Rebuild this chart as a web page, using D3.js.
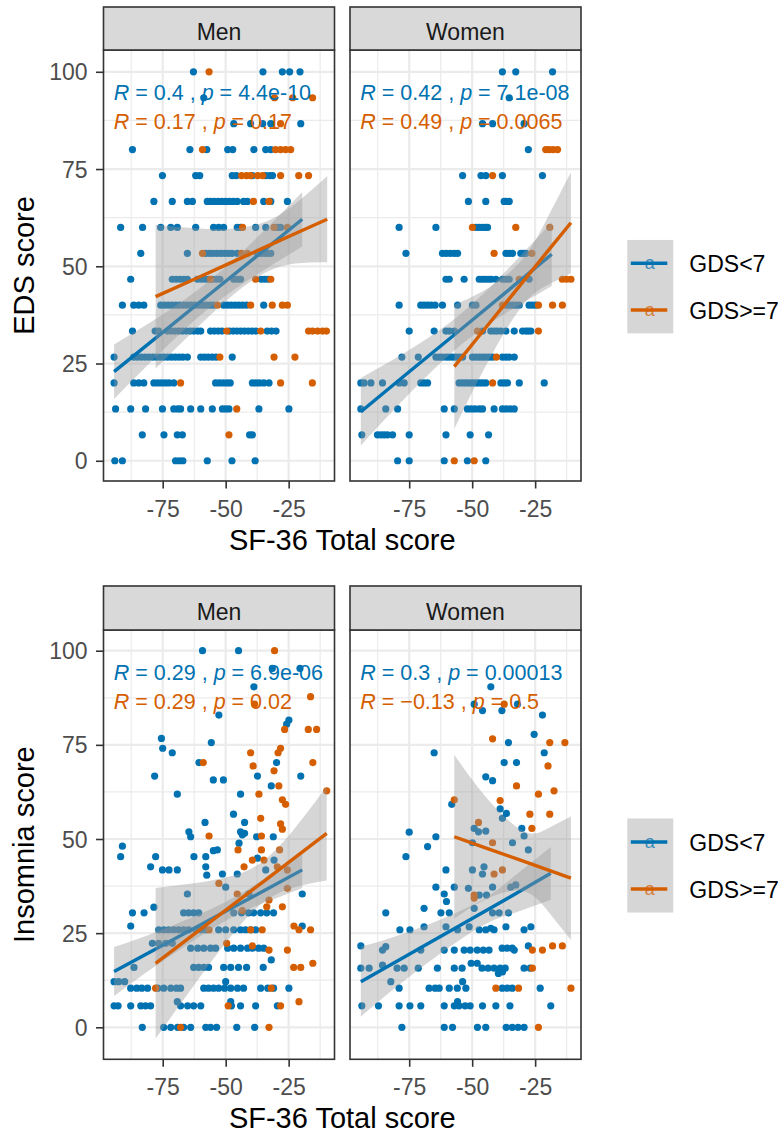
<!DOCTYPE html>
<html>
<head>
<meta charset="utf-8">
<script src="https://cdn.jsdelivr.net/npm/d3@7"></script>
<style>
html, body { margin: 0; padding: 0; background: #ffffff; }
svg { display: block; font-family: "Liberation Sans", Arial, sans-serif; }
</style>
</head>
<body>
<svg id="chart" width="784" height="1135"></svg>
<script>
// ---- categories, ticks -------------------------------------------------
const facets = ["Men", "Women"];
const groups = ["GDS<7", "GDS>=7"];
const groupColors = ["#0072B2", "#D55E00"];
const xTicks = [-75, -50, -25];
const xMinorTicks = [-87.5, -62.5, -37.5, -12.5];
const yTicks = [0, 25, 50, 75, 100];
const yMinorTicks = [12.5, 37.5, 62.5, 87.5];
const xTitle = "SF-36 Total score";

// ---- EDS score vs SF-36 total score: [sf36, eds] ------------------------
const edsMenLow = [
  [-62.8,100],[-35.2,100],[-27.5,100],[-24.6,100],[-20.5,100],
  [-58.7,93.33],
  [-46.8,86.67],[-40.1,86.67],[-35.3,86.67],[-32.1,86.67],[-20.2,86.67],
  [-87,80],[-64.2,80],[-57.5,80],[-49.2,80],[-47.2,80],[-38.8,80],[-34.1,80],[-32.1,80],
  [-75.1,73.33],[-61.9,73.33],[-60.3,73.33],[-47.4,73.33],[-45.8,73.33],[-39.4,73.33],[-34.1,73.33],[-32.5,73.33],[-31.4,73.33],
  [-78.5,66.67],[-71.2,66.67],[-65.2,66.67],[-63.2,66.67],[-57.3,66.67],[-56,66.67],[-54.5,66.67],[-53,66.67],[-51.5,66.67],[-50,66.67],[-48.5,66.67],[-47,66.67],[-45.4,66.67],[-42.9,66.67],[-41.4,66.67],[-34.9,66.67],[-32.1,66.67],[-25.5,66.67],
  [-91.7,60],[-83,60],[-75.8,60],[-71.8,60],[-69.2,60],[-61.9,60],[-54.8,60],[-52.8,60],[-50.8,60],[-45.4,60],[-44.1,60],[-38.1,60],[-34.1,60],[-29.5,60],[-28.2,60],
  [-83.7,53.33],[-65.2,53.33],[-57.9,53.33],[-56.4,53.33],[-55,53.33],[-53.5,53.33],[-52,53.33],[-50.5,53.33],[-49,53.33],[-47.5,53.33],[-45.4,53.33],[-37.4,53.33],[-36,53.33],[-34.6,53.33],[-33.2,53.33],[-32.1,53.33],
  [-87.7,46.67],[-71.2,46.67],[-69.7,46.67],[-68.2,46.67],[-66.7,46.67],[-65.2,46.67],[-61.2,46.67],[-59.7,46.67],[-58.2,46.67],[-56.7,46.67],[-55.2,46.67],[-53.7,46.67],[-52.3,46.67],[-46.8,46.67],[-45.4,46.67],[-44.1,46.67],[-35.9,46.67],[-34.5,46.67],[-33.1,46.67],
  [-91,40],[-86.5,40],[-84.5,40],[-82.5,40],[-75.8,40],[-74.3,40],[-72.8,40],[-71.3,40],[-69.8,40],[-68.3,40],[-66.7,40],[-65.2,40],[-63.7,40],[-62.2,40],[-60.7,40],[-59.2,40],[-57.7,40],[-56.2,40],[-54.8,40],[-50.8,40],[-49.3,40],[-47.8,40],[-46.3,40],[-44.8,40],[-43.3,40],[-41.7,40],[-34.9,40],
  [-87,33.33],[-78,33.33],[-76.6,33.33],[-73.1,33.33],[-71.6,33.33],[-70.1,33.33],[-68.6,33.33],[-67.1,33.33],[-65.6,33.33],[-64.1,33.33],[-62.6,33.33],[-61.1,33.33],[-59.9,33.33],[-56,33.33],[-54.5,33.33],[-53,33.33],[-51.5,33.33],[-48.5,33.33],[-47,33.33],[-45.5,33.33],[-44,33.33],[-42.5,33.33],[-41,33.33],[-39.5,33.33],[-38,33.33],[-33.5,33.33],[-31.8,33.33],[-30,33.33],
  [-94.3,26.67],[-86.5,26.67],[-85,26.67],[-83.5,26.67],[-82,26.67],[-80.5,26.67],[-79,26.67],[-77.5,26.67],[-76,26.67],[-74.5,26.67],[-73,26.67],[-71.5,26.67],[-70,26.67],[-68.5,26.67],[-67,26.67],[-65.2,26.67],[-59.9,26.67],[-58.4,26.67],[-56.9,26.67],[-55.3,26.67],[-53.8,26.67],[-47.4,26.67],
  [-94.3,20],[-86.5,20],[-84.5,20],[-82.5,20],[-78.5,20],[-77,20],[-75.5,20],[-74,20],[-72.5,20],[-70.6,20],[-54,20],[-52.5,20],[-51,20],[-49.5,20],[-48.2,20],[-39.4,20],[-38,20],[-36.6,20],[-34.9,20],[-32.8,20],
  [-93.7,13.33],[-87.7,13.33],[-81.8,13.33],[-75.1,13.33],[-70.6,13.33],[-69,13.33],[-67.9,13.33],[-63.9,13.33],[-59.9,13.33],[-55.3,13.33],[-51.3,13.33],[-50,13.33],[-48.7,13.33],[-36.8,13.33],[-24.9,13.33],
  [-83.1,6.67],[-74.5,6.67],[-69.2,6.67],[-67.2,6.67],[-40.5,6.67],[-39.4,6.67],
  [-94,0],[-91,0],[-69.9,0],[-68.4,0],[-67,0],[-57.3,0],[-47.5,0],[-38.3,0]
];
const edsMenHigh = [
  [-56.6,100],
  [-30.6,93.33],[-23.4,93.33],[-15.5,93.33],
  [-28.2,86.67],
  [-59.2,80],[-30.2,80],[-28.2,80],[-26.2,80],[-24.2,80],
  [-43.7,73.33],[-41.7,73.33],[-40.1,73.33],[-37.3,73.33],[-35.3,73.33],[-28.2,73.33],[-21,73.33],[-17.1,73.33],
  [-39,66.67],[-32.8,66.67],
  [-43.3,60],[-30.8,60],[-25.5,60],
  [-59.2,53.33],[-43.7,53.33],[-41.4,53.33],
  [-56,46.67],[-38.1,46.67],[-32.1,46.67],
  [-53.3,40],[-40.1,40],[-31.5,40],[-27.5,40],[-25.5,40],
  [-49.6,33.33],[-36.1,33.33],[-17.1,33.33],[-15.5,33.33],[-13.5,33.33],[-11.5,33.33],[-10,33.33],
  [-52.3,26.67],[-30.8,26.67],[-22.5,26.67],
  [-67.9,20],[-28.2,20],[-15.6,20],
  [-45.6,13.33],
  [-48.7,6.67]
];
const edsWomenLow = [
  [-38,100],[-32.7,100],[-18.1,100],
  [-35.3,93.33],
  [-45.9,86.67],[-41.9,86.67],[-29.4,86.67],
  [-27.7,80],
  [-53.8,73.33],[-46.5,73.33],[-44.6,73.33],[-38,73.33],[-22.1,73.33],
  [-51.5,66.67],[-44.6,66.67],[-37.3,66.67],[-36.5,66.67],[-35.3,66.67],
  [-79,60],[-64.4,60],[-48.5,60],[-47.2,60],[-46,60],[-44.8,60],[-43.9,60],
  [-76.3,53.33],[-61.8,53.33],[-60.3,53.33],[-58.7,53.33],[-57.1,53.33],[-55.8,53.33],[-36.6,53.33],[-35.3,53.33],[-34,53.33],[-30.7,53.33],[-29.8,53.33],[-28.7,53.33],
  [-60.4,46.67],[-59.1,46.67],[-53.2,46.67],[-47.2,46.67],[-46,46.67],[-44.8,46.67],[-43.6,46.67],[-42.4,46.67],[-40.6,46.67],[-38,46.67],[-36.6,46.67],[-35.3,46.67],[-27.4,46.67],
  [-79,40],[-70.4,40],[-69.1,40],[-67.7,40],[-66.3,40],[-64.7,40],[-61.8,40],[-55.8,40],[-49.9,40],[-48.5,40],[-36.6,40],[-35.3,40],[-34,40],[-32.7,40],[-31.3,40],[-27.4,40],[-26.1,40],[-24.7,40],
  [-75,33.33],[-65.1,33.33],[-60.4,33.33],[-59.1,33.33],[-57.1,33.33],[-45.9,33.33],[-42.6,33.33],[-41.3,33.33],[-40.1,33.33],[-38.6,33.33],[-36.6,33.33],[-33.3,33.33],[-30,33.33],[-28.7,33.33],[-27.8,33.33],[-26.7,33.33],
  [-77.9,26.67],[-71.4,26.67],[-64.4,26.67],[-63.1,26.67],[-61.8,26.67],[-60.3,26.67],[-59.1,26.67],[-57.8,26.67],[-56.5,26.67],[-55.2,26.67],[-53.8,26.67],[-49.9,26.67],[-48.5,26.67],[-47.2,26.67],[-45.9,26.67],[-44.6,26.67],[-43.3,26.67],[-41.9,26.67],[-38,26.67],[-36.6,26.67],[-35.3,26.67],[-33.3,26.67],
  [-94.2,20],[-92.9,20],[-90.2,20],[-85.6,20],[-79,20],[-77,20],[-70.4,20],[-69.1,20],[-67.7,20],[-55.2,20],[-53.8,20],[-52.5,20],[-51.2,20],[-49.9,20],[-48.5,20],[-47.2,20],[-45.9,20],[-44.6,20],[-38.6,20],[-37.3,20],[-36,20],[-31.3,20],[-21.4,20],
  [-94.2,13.33],[-84.3,13.33],[-79.6,13.33],[-61.1,13.33],[-57.1,13.33],[-51.9,13.33],[-50.4,13.33],[-48.9,13.33],[-47.2,13.33],[-45.9,13.33],[-41.3,13.33],[-38,13.33],[-36.5,13.33],[-34.9,13.33],[-33.3,13.33],
  [-93.8,6.67],[-87.6,6.67],[-86.2,6.67],[-84.9,6.67],[-83.6,6.67],[-81.6,6.67],[-75,6.67],[-60.4,6.67],[-50.8,6.67],[-43.5,6.67],
  [-79.6,0],[-75,0],[-61.1,0],[-51.9,0],[-44.6,0]
];
const edsWomenHigh = [
  [-20.8,80],[-19.5,80],[-17.9,80],[-16.1,80],
  [-41.9,73.33],
  [-49.9,60],[-32.7,60],[-19.2,60],
  [-41.3,53.33],[-26.3,53.33],
  [-31.3,46.67],[-14.2,46.67],[-12.5,46.67],[-10.8,46.67],
  [-38,40],[-23.7,40],[-18.1,40],[-14.2,40],
  [-47.9,33.33],[-23.7,33.33],
  [-40.4,26.67],
  [-41.9,20],
  [-57.1,0],[-49.2,0]
];

// ---- Insomnia score vs SF-36 total score: [sf36, insomnia] -------------
const insMenLow = [
  [-59.2,100],[-44.9,100],
  [-31.5,95.3],[-20.5,95.3],
  [-38.8,90.4],
  [-52.7,82.9],[-24.9,81.6],[-25.8,80.5],
  [-75.5,76.7],[-55.7,75.6],[-75,74.1],[-71.2,72.9],
  [-60.6,70.3],[-29.8,70.3],
  [-78.2,66.7],[-37.4,66.7],[-20.2,66.7],[-54.9,65.7],[-50.9,65.7],[-31.9,64.1],
  [-69.2,61.9],[-44.1,61.9],
  [-46.9,56.6],[-58.2,54.4],[-42.5,54.4],
  [-64.6,51.9],[-63.9,50.6],[-44.1,51.9],[-43.4,51.1],[-42.5,51.5],[-37.7,50.6],[-31.1,50.6],
  [-44.7,48.9],[-91,48.1],[-91.7,45.3],[-53.3,47.1],[-54.9,46.9],[-57.9,45.3],[-62.6,45.3],[-77.8,45.3],[-37.4,44.9],[-30.8,44.4],
  [-79.8,42.6],[-75.1,41.8],[-72.5,41.8],[-69.2,41.8],[-57.9,42.6],[-57.5,40.4],[-34.1,41.8],[-51.3,40.7],[-45.4,40.7],
  [-50,37.2],[-65.2,35.4],[-40.8,35.4],[-19.6,35.4],
  [-78.5,31.9],[-87,30.4],[-82.4,30.4],[-66.7,30.4],[-64.7,30.4],[-62.7,30.4],[-60.7,30.4],[-46.8,30.4],[-43.7,30.4],[-40.9,30.4],[-38.9,30.4],[-36.1,30.4],[-33.7,30.4],[-31,30.4],
  [-87.7,26.9],[-19.6,26.9],
  [-76.6,25.9],[-74.6,25.9],[-72.6,25.9],[-70.6,25.9],[-68.7,25.9],[-66.7,25.9],[-64.7,25.9],[-61.9,25.9],[-59.9,25.9],[-57.9,25.9],[-52.8,25.9],[-50,25.9],[-46.8,25.9],[-44.1,25.9],[-42.1,25.9],[-40.1,25.9],[-38.1,25.9],
  [-79.1,22.3],[-76.6,22.3],[-73.8,22.3],[-71.2,22.3],
  [-63.9,21],[-61.1,21],[-58.7,21],[-56,21],[-54,21],[-49.2,21],[-46.8,21],[-44.1,21],[-41.3,21],[-39.3,21],[-36.9,21],[-34.9,21],
  [-31.9,17.9],
  [-86.4,15.9],[-62.7,15.9],[-60.7,15.9],[-58.7,15.9],[-56.8,15.9],[-50.8,15.9],[-48,15.9],[-44.9,15.9],[-41.7,15.9],[-35.1,15.9],
  [-94.3,12.1],[-92.5,12.1],[-90.1,12.1],[-50,12.1],
  [-87.7,10.4],[-85.3,10.4],[-83.3,10.4],[-81,10.4],[-77,10.4],[-74.6,10.4],[-71.8,10.4],[-69.5,10.4],[-67.9,10.4],[-58.7,10.4],[-56.8,10.4],[-54.8,10.4],[-52.8,10.4],[-50.4,10.4],[-48,10.4],[-45.3,10.4],[-42.9,10.4],[-36.1,10.4],[-33.3,10.4],[-31,10.4],[-24.9,10.4],
  [-94.3,5.7],[-92.7,5.7],[-87.7,5.7],[-83.7,5.7],[-81.8,5.7],[-79.8,5.7],[-69.2,6.8],[-67.9,5.7],[-65.1,5.7],[-62.7,5.7],[-59.9,5.7],[-48,6.8],[-47.7,5.7],[-44.1,5.7],[-38.1,5.7],[-29.5,5.7],
  [-83.1,0],[-74.6,0],[-71.8,0],[-69.1,0],[-66.7,0],[-63.9,0],[-57.9,0],[-56,0],[-53.6,0],[-45.6,0],[-38.5,0]
];
const insMenHigh = [
  [-30.6,100],[-16.3,87.8],[-38.5,85.8],[-26.6,79.1],[-17.2,79.1],[-13.9,79.1],
  [-40.1,72.9],[-28.2,74.1],[-29.2,72.9],[-58.9,70.3],[-39.1,69.4],[-15.4,70.3],[-30.8,68.1],
  [-36.8,61.9],[-28.9,64.1],[-27.5,60.4],[-26.2,59.2],[-9.9,62.8],
  [-36.1,55.5],[-28.2,54],[-27.5,52.6],[-56.6,50.8],[-35.8,50.8],
  [-45.1,47.1],[-35.8,47.1],[-28.6,47.1],[-39.4,44.4],[-34.8,44.4],[-42.7,42.6],[-29.5,42.6],[-25.5,41.8],
  [-52.7,38.2],[-25.5,36.9],[-45.4,35.4],[-32.8,33.8],[-43.4,31],[-33.7,32],[-27.5,32],
  [-56.6,25.9],[-40.1,25.9],[-35.5,25.9],[-22.9,26.9],[-20.9,25.9],[-16.3,25.9],
  [-49.6,22.3],[-39.4,21.6],[-32.8,20.5],[-25.5,20.5],
  [-23,15.9],[-20.2,15.9],[-15.4,17],
  [-77.8,10.4],[-31.9,10.4],
  [-49,5.7],[-28.2,5.7],[-20.9,6.8],
  [-67.9,0],[-32.8,0]
];
const insWomenLow = [
  [-42.6,90.4],[-49.2,85.8],[-32,85.8],[-45.9,84.1],[-38.2,84.1],[-22.1,82.9],[-25.4,77.8],[-35.6,75.6],[-65.1,72.9],[-21.4,72.9],[-37.3,70.3],[-32.4,70.3],
  [-44.6,66.5],[-41.9,65.5],[-58.1,59.2],[-38.9,58],[-36.4,56.8],[-38,55.5],
  [-49.2,52.8],[-47.5,51.9],[-44.6,52.1],[-75,51.8],[-30.3,52.8],[-29.4,50.8],[-64.4,50.6],[-49.9,49],[-34,49],[-67.7,48],[-27.7,47.1],[-76.3,45.3],
  [-60.4,41.8],[-45.3,42.6],[-45.9,40.7],[-49.9,41.8],
  [-64.4,37.2],[-57.1,37.2],[-51.5,36.9],[-41.9,37.2],[-34.7,37.2],[-32.7,37.8],[-61.1,35.4],[-60.2,33.4],[-47.2,35.1],[-44.3,35.1],
  [-84.3,30.4],[-69.1,31.6],[-62.4,30.4],[-59.1,30.4],[-49.2,31.6],[-41.9,30.4],[-39.3,30.4],[-35.6,30.4],
  [-78.7,25.9],[-74.7,25.9],[-55.8,25.9],[-47.2,25.9],[-44.6,25.9],[-41.3,25.9],[-29.4,25.9],[-69.1,26.7],[-60.4,26.7],[-51.2,26.7],[-36.6,26.7],[-26.7,26.7],[-42.6,26.3],
  [-94.2,21.6],[-84.3,21.4],[-27.7,21.6],
  [-85.6,20.5],[-70.4,20.5],[-61.1,20.5],[-57.1,20.5],[-53.2,20.5],[-50.8,20.5],[-48,20.5],[-45.6,20.5],[-43.3,20.5],[-33.3,20.5],[-38.1,21],[-36.1,21],[-34.1,21],
  [-94.2,15.7],[-90.9,15.7],[-79.8,15.7],[-77,15.7],[-71.4,15.7],[-63.8,15.7],[-57.1,15.7],[-54,15.7],[-46.1,15.7],[-43.7,15.7],[-41.3,15.7],[-38.9,15.7],[-36.9,15.7],[-29.4,15.7],[-27,15.7],
  [-85.6,16.5],[-50.4,17],[-48,17],[-39.6,14.3],[-38,14.7],
  [-82.3,12.1],[-53.8,12.1],
  [-79,10.4],[-67.1,10.4],[-64.7,10.4],[-63.1,10.4],[-59.1,10.4],[-55.9,10.4],[-52.5,10.4],[-38.1,10.4],[-36.1,10.4],[-34.1,10.4],[-23,10.4],
  [-93.8,5.7],[-87.2,5.7],[-79,5.7],[-74.7,5.7],[-70.4,5.7],[-61.1,5.7],[-57.1,5.7],[-55.2,5.7],[-52.8,5.7],[-50.8,5.7],[-45.9,5.7],[-40.6,5.7],[-35,5.7],[-18.8,5.7],[-55.8,6.8],
  [-77.9,0],[-61.1,0],[-57.8,0],[-47.9,0],[-44.6,0],[-36.5,0],[-34.1,0],[-31.8,0],[-29.4,0]
];
const insWomenHigh = [
  [-37.3,85.8],[-41.9,76.6],[-19.2,75.6],[-13.2,75.6],[-19.9,69.4],[-32.4,64.1],[-23.7,61.9],[-17.5,62.8],[-57.1,60.4],[-38.9,60.2],[-27.1,56.6],[-19.2,56.6],[-47.5,54.4],[-26.3,52.8],[-41.9,49],[-38,41.8],[-41.3,40.7],[-49.2,35.1],[-49.2,34.3],
  [-26.1,20.5],[-22.1,20.5],[-18.1,21.6],[-14.2,21.6],[-26.1,15.7],[-40.6,10.4],[-31.6,10.4],[-10.8,10.4],[-23.7,0]
];

// ---- linear fits with 95% bands: [sf36, fit, lower, upper] -------------
const edsMenLowFit   = [[-94.3,22.9,15.9,29.9],[-75,33.0,28.4,37.6],[-57,42.5,39,46],[-38,52.4,47.7,57.1],[-19.6,62.1,55.1,69.1]];
const edsMenHighFit  = [[-77.8,42.2,23.7,60.7],[-62,46.8,33.8,59.8],[-47,51.2,42.7,59.7],[-33,55.3,48.8,61.8],[-21,58.8,50.8,66.8],[-9.7,62.1,51,73.2]];
const edsWomenLowFit = [[-94.2,12.6,3.9,21.3],[-75,22.9,17.2,28.5],[-55,33.5,29.5,37.5],[-37,43.1,37.8,48.5],[-18.4,53.1,44.9,61.3]];
const edsWomenHighFit= [[-57.1,24.2,8.2,40.2],[-46,33.1,22.7,43.5],[-31,45.1,39.1,51.1],[-20,53.9,45.2,62.6],[-10.8,61.2,48.2,74.2]];
const insMenLowFit   = [[-94.3,14.8,8.3,21.3],[-75,21.8,17.6,26],[-50,30.8,28.3,33.3],[-35,36.2,33,39.4],[-19.6,41.8,37,46.6]];
const insMenHighFit  = [[-77.8,17,-3,37],[-62,25,11.7,38.3],[-48,32.1,24.1,40.1],[-35,38.7,33.2,44.2],[-22,45.3,37.3,53.3],[-9.9,51.5,39,64]];
const insWomenLowFit = [[-94.2,12.1,2.8,21.4],[-75,19.4,13.4,25.4],[-50,28.9,25.4,32.4],[-35,34.6,30,39.2],[-18.8,40.9,33.9,47.9]];
const insWomenHighFit= [[-57.1,50.6,28.8,72.4],[-45,47.7,33.9,61.5],[-30,44.2,36.2,52.2],[-20,41.8,30.9,52.8],[-10.8,39.6,23.2,56]];

// ---- correlation labels: [R, p] -------------------------------------------
const edsStats = [[["0.4","4.4e-10"],["0.17","0.17"]], [["0.42","7.1e-08"],["0.49","0.0065"]]];
const insStats = [[["0.29","6.9e-06"],["0.29","0.02"]], [["0.3","0.00013"],["\u22120.13","0.5"]]];

// ---- layout ---------------------------------------------------------------
const svg = d3.select("#chart");
const panelW = 231;
const panelLeft = [103.5, 350];
const xDomain = [-98.5, -6.8];
const labelX = -94.4;

const blocks = [
  { title: "EDS score", top: 50, bottom: 481, stripTop: 7, yDomain: [-5.2, 105.6],
    points: [[edsMenLow, edsMenHigh], [edsWomenLow, edsWomenHigh]],
    fits: [[edsMenLowFit, edsMenHighFit], [edsWomenLowFit, edsWomenHighFit]],
    stats: edsStats, statY: [92.7, 85.3], legendY: [263.3, 310] },
  { title: "Insomnia score", top: 630, bottom: 1059.3, stripTop: 586, yDomain: [-8.5, 105.5],
    points: [[insMenLow, insMenHigh], [insWomenLow, insWomenHigh]],
    fits: [[insMenLowFit, insMenHighFit], [insWomenLowFit, insWomenHighFit]],
    stats: insStats, statY: [92.2, 84.5], legendY: [842, 889] }
];

const defs = svg.append("defs");

blocks.forEach((b, bi) => {
  const y = d3.scaleLinear().domain(b.yDomain).range([b.bottom, b.top]);

  facets.forEach((facet, fi) => {
    const x0 = panelLeft[fi];
    const x = d3.scaleLinear().domain(xDomain).range([x0, x0 + panelW]);
    const clipId = `clip-${bi}-${fi}`;
    defs.append("clipPath").attr("id", clipId)
      .append("rect").attr("x", x0).attr("y", b.top)
      .attr("width", panelW).attr("height", b.bottom - b.top);

    const g = svg.append("g");
    g.append("rect").attr("x", x0).attr("y", b.top)
      .attr("width", panelW).attr("height", b.bottom - b.top).attr("fill", "#ffffff");

    const grid = g.append("g").attr("clip-path", `url(#${clipId})`);
    // minor grid
    grid.selectAll(".vmin").data(xMinorTicks).join("line")
      .attr("x1", d => x(d)).attr("x2", d => x(d)).attr("y1", b.top).attr("y2", b.bottom)
      .attr("stroke", "#EBEBEB").attr("stroke-width", 1.2);
    grid.selectAll(".hmin").data(yMinorTicks).join("line")
      .attr("y1", d => y(d)).attr("y2", d => y(d)).attr("x1", x0).attr("x2", x0 + panelW)
      .attr("stroke", "#EBEBEB").attr("stroke-width", 1.2);
    // major grid
    grid.selectAll(".vmaj").data(xTicks).join("line")
      .attr("x1", d => x(d)).attr("x2", d => x(d)).attr("y1", b.top).attr("y2", b.bottom)
      .attr("stroke", "#EBEBEB").attr("stroke-width", 2.2);
    grid.selectAll(".hmaj").data(yTicks).join("line")
      .attr("y1", d => y(d)).attr("y2", d => y(d)).attr("x1", x0).attr("x2", x0 + panelW)
      .attr("stroke", "#EBEBEB").attr("stroke-width", 2.2);

    const plot = g.append("g").attr("clip-path", `url(#${clipId})`);
    // points
    groups.forEach((grp, gi) => {
      plot.append("g").selectAll("circle").data(b.points[fi][gi]).join("circle")
        .attr("cx", d => x(d[0])).attr("cy", d => y(d[1])).attr("r", 3.6)
        .attr("fill", groupColors[gi]);
    });
    // smooth bands and lines
    const band = d3.area().x(d => x(d[0])).y0(d => y(d[2])).y1(d => y(d[3])).curve(d3.curveNatural);
    const fitLine = d3.line().x(d => x(d[0])).y(d => y(d[1]));
    groups.forEach((grp, gi) => {
      const f = b.fits[fi][gi];
      plot.append("path").attr("d", band(f)).attr("fill", "#999999").attr("fill-opacity", 0.4);
      plot.append("path").attr("d", fitLine(f)).attr("fill", "none")
        .attr("stroke", groupColors[gi]).attr("stroke-width", 3.4);
    });
    // correlation labels
    groups.forEach((grp, gi) => {
      const s = b.stats[fi][gi];
      const t = g.append("text").attr("x", x(labelX)).attr("y", y(b.statY[gi]))
        .attr("fill", groupColors[gi]).attr("font-size", 21.5).attr("xml:space", "preserve");
      t.append("tspan").attr("font-style", "italic").text("R");
      t.append("tspan").text(` = ${s[0]} , `);
      t.append("tspan").attr("font-style", "italic").text("p");
      t.append("tspan").text(` = ${s[1]}`);
    });
    // panel border
    g.append("rect").attr("x", x0).attr("y", b.top)
      .attr("width", panelW).attr("height", b.bottom - b.top)
      .attr("fill", "none").attr("stroke", "#333333").attr("stroke-width", 1.6);
    // strip
    g.append("rect").attr("x", x0).attr("y", b.stripTop)
      .attr("width", panelW).attr("height", b.top - b.stripTop)
      .attr("fill", "#D9D9D9").attr("stroke", "#333333").attr("stroke-width", 1.6);
    g.append("text").attr("x", x0 + panelW / 2).attr("y", b.top - 10.5)
      .attr("text-anchor", "middle").attr("font-size", 23).attr("fill", "#1A1A1A").text(facet);

    // x axis
    const xa = g.append("g").attr("transform", `translate(0,${b.bottom})`)
      .call(d3.axisBottom(x).tickValues(xTicks).tickSize(7.5).tickPadding(4).tickFormat(d => String(d)));
    xa.select(".domain").remove();
    xa.selectAll("line").attr("stroke", "#333333").attr("stroke-width", 1.6);
    xa.selectAll("text").attr("y", 36).attr("dy", null)
      .attr("font-size", 23).attr("fill", "#4D4D4D").attr("font-family", null);

    // y axis (left facet only)
    if (fi === 0) {
      const ya = g.append("g").attr("transform", `translate(${x0},0)`)
        .call(d3.axisLeft(y).tickValues(yTicks).tickSize(7.5).tickFormat(d => String(d)));
      ya.select(".domain").remove();
      ya.selectAll("line").attr("stroke", "#333333").attr("stroke-width", 1.6);
      ya.selectAll("text").attr("x", -16).attr("dy", "0.35em")
        .attr("font-size", 23).attr("fill", "#4D4D4D").attr("font-family", null);
    }
  });

  // axis titles
  svg.append("text").attr("x", (panelLeft[0] + panelLeft[1] + panelW) / 2).attr("y", b.bottom + 69)
    .attr("text-anchor", "middle").attr("font-size", 29).attr("fill", "#000000").text(xTitle);
  svg.append("text")
    .attr("transform", `translate(34,${(b.top + b.bottom) / 2}) rotate(-90)`)
    .attr("text-anchor", "middle").attr("font-size", 29).attr("fill", "#000000").text(b.title);

  // legend
  const lg = svg.append("g");
  const keyX = 627.3, keyW = 46, keyH = b.legendY[1] - b.legendY[0];
  lg.append("rect").attr("x", keyX).attr("y", b.legendY[0] - keyH / 2)
    .attr("width", keyW).attr("height", keyH * 2).attr("fill", "#D6D6D6");
  groups.forEach((grp, gi) => {
    const ky = b.legendY[gi];
    lg.append("line").attr("x1", keyX + 3.5).attr("x2", keyX + keyW - 6)
      .attr("y1", ky).attr("y2", ky).attr("stroke", groupColors[gi]).attr("stroke-width", 3.4);
    lg.append("text").attr("x", keyX + 22.5).attr("y", ky + 6).attr("text-anchor", "middle")
      .attr("font-size", 18).attr("fill", groupColors[gi]).attr("fill-opacity", 0.75).text("a");
    lg.append("text").attr("x", 689.3).attr("y", ky + 8.5)
      .attr("font-size", 23).attr("fill", "#000000").text(grp);
  });
});
</script>
</body>
</html>
